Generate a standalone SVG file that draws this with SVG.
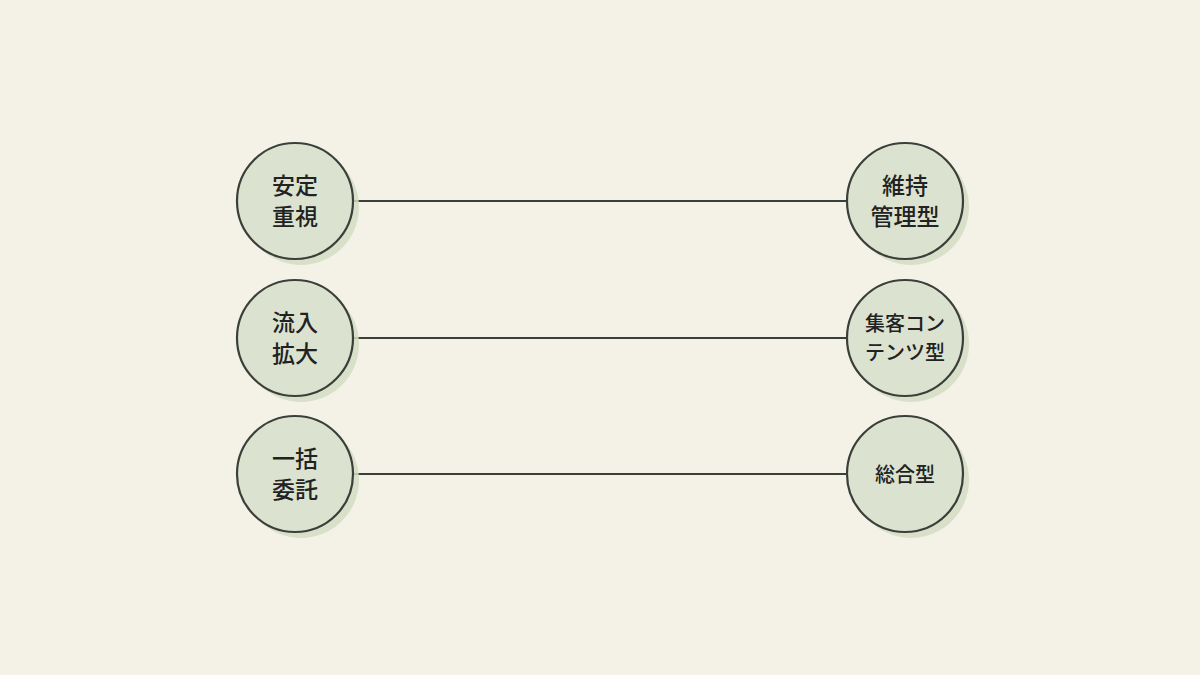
<svg xmlns="http://www.w3.org/2000/svg" width="1200" height="675" viewBox="0 0 1200 675">
<style>
.sh{fill:#d3ddc3;opacity:0.85}
.c{fill:#dbe3d0;stroke:#3b3f3a;stroke-width:2.2}
.t{font-family:"Noto Sans CJK JP","Noto Sans",sans-serif;font-size:23px;fill:#222;text-anchor:middle;font-weight:500}
.ts{font-size:20px}
.l{stroke:#3b3f3a;stroke-width:1.8;fill:none}
</style>
<rect width="1200" height="675" fill="#f4f1e7"/>
<g id="connectors">
<line class="l" x1="353" y1="201" x2="847" y2="201"/>
<line class="l" x1="353" y1="338" x2="847" y2="338"/>
<line class="l" x1="353" y1="474" x2="847" y2="474"/>
</g>
<g id="n1"><circle class="sh" cx="301" cy="207" r="58"/><circle class="c" cx="295" cy="201" r="58"/><text class="t" x="295" y="194">安定</text><text class="t" x="295" y="225">重視</text></g>
<g id="n2"><circle class="sh" cx="301" cy="344" r="58"/><circle class="c" cx="295" cy="338" r="58"/><text class="t" x="295" y="331">流入</text><text class="t" x="295" y="362">拡大</text></g>
<g id="n3"><circle class="sh" cx="301" cy="480" r="58"/><circle class="c" cx="295" cy="474" r="58"/><text class="t" x="295" y="467">一括</text><text class="t" x="295" y="498">委託</text></g>
<g id="n4"><circle class="sh" cx="911" cy="207" r="58"/><circle class="c" cx="905" cy="201" r="58"/><text class="t" x="905" y="194">維持</text><text class="t" x="905" y="225">管理型</text></g>
<g id="n5"><circle class="sh" cx="911" cy="344" r="58"/><circle class="c" cx="905" cy="338" r="58"/><text class="t ts" x="905" y="331">集客コン</text><text class="t ts" x="905" y="360">テンツ型</text></g>
<g id="n6"><circle class="sh" cx="911" cy="480" r="58"/><circle class="c" cx="905" cy="474" r="58"/><text class="t ts" x="905" y="482">総合型</text></g>
</svg>
